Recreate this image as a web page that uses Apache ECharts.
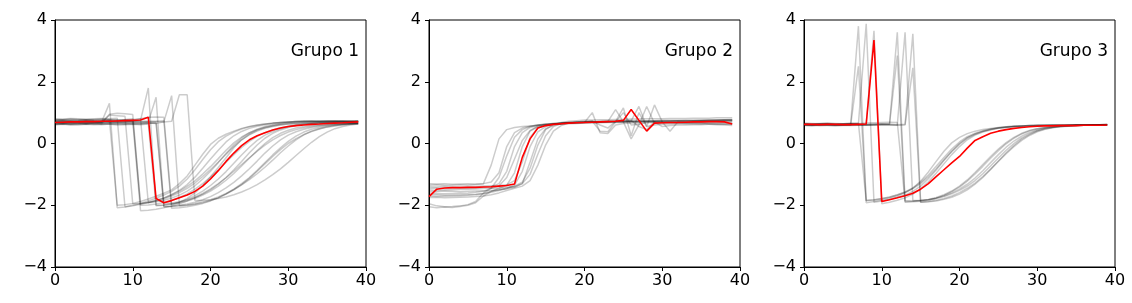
<!DOCTYPE html>
<html>
<head>
<meta charset="utf-8">
<script src="https://cdn.jsdelivr.net/npm/echarts@6/dist/echarts.min.js"></script>
<style>
html,body{margin:0;padding:0;background:#fff;}
#chart{width:1132px;height:303px;}
</style>
</head>
<body>
<div id="chart"></div>
<script>
// ---- data ----
const steps = [0,1,2,3,4,5,6,7,8,9,10,11,12,13,14,15,16,17,18,19,20,21,22,23,24,25,26,27,28,29,30,31,32,33,34,35,36,37,38,39];
const xTicks = [0, 10, 20, 30, 40];
const yTicks = [-4, -2, 0, 2, 4];
const groupNames = ["Grupo 1", "Grupo 2", "Grupo 3"];

// Grupo 1
const g1a = [0.75,0.76,0.74,0.75,0.77,0.75,0.74,0.76,-2.00,-1.98,
 -1.94,-1.88,-1.80,-1.71,-1.61,-1.50,-1.30,-1.05,-0.70,-0.35,
 -0.03,0.17,0.30,0.40,0.49,0.55,0.60,0.63,0.66,0.68,
 0.70,0.71,0.72,0.72,0.71,0.72,0.73,0.72,0.71,0.72];
const g1b = [0.62,0.64,0.63,0.65,0.64,0.66,0.70,1.30,-2.08,-2.06,
 -2.02,-1.97,-1.91,-1.84,-1.76,-1.66,-1.54,-1.39,-1.21,-0.99,
 -0.75,-0.49,-0.22,0.02,0.21,0.35,0.45,0.52,0.57,0.61,
 0.63,0.65,0.66,0.67,0.66,0.67,0.68,0.67,0.66,0.67];
const g1c = [0.80,0.79,0.81,0.80,0.79,0.80,0.81,0.80,0.82,-2.05,
 -2.00,-1.94,-1.86,-1.77,-1.67,-1.55,-1.38,-1.15,-0.85,-0.52,
 -0.20,0.06,0.24,0.37,0.47,0.54,0.59,0.63,0.66,0.68,
 0.70,0.71,0.72,0.73,0.72,0.73,0.74,0.73,0.72,0.73];
const g1d = [0.70,0.71,0.69,0.70,0.72,0.71,0.70,0.92,0.90,0.88,
 -1.95,-1.94,-1.91,-1.86,-1.79,-1.70,-1.59,-1.45,-1.28,-1.07,
 -0.84,-0.60,-0.35,-0.10,0.12,0.28,0.40,0.49,0.55,0.60,
 0.63,0.65,0.67,0.68,0.69,0.70,0.70,0.71,0.70,0.71];
const g1e = [0.68,0.67,0.69,0.68,0.66,0.68,0.67,0.69,0.68,0.70,
 0.72,-2.18,-2.16,-2.13,-2.08,-2.02,-1.95,-1.86,-1.75,-1.62,
 -1.47,-1.30,-1.11,-0.90,-0.68,-0.46,-0.25,-0.05,0.12,0.26,
 0.37,0.45,0.51,0.55,0.58,0.61,0.63,0.64,0.65,0.66];
const g1f = [0.78,0.77,0.79,0.78,0.77,0.78,0.79,0.78,0.77,0.78,
 0.80,-1.95,-1.91,-1.85,-1.77,-1.66,-1.52,-1.33,-1.09,-0.80,
 -0.50,-0.22,0.05,0.25,0.39,0.49,0.56,0.61,0.65,0.68,
 0.70,0.71,0.72,0.72,0.73,0.72,0.71,0.72,0.73,0.72];
const g1g = [0.72,0.71,0.73,0.72,0.70,0.72,0.71,0.73,0.72,0.71,
 0.73,0.75,1.80,-2.02,-2.00,-1.96,-1.90,-1.81,-1.69,-1.54,
 -1.36,-1.15,-0.91,-0.64,-0.37,-0.12,0.10,0.27,0.39,0.48,
 0.54,0.59,0.62,0.64,0.66,0.67,0.68,0.68,0.69,0.70];
const g1h = [0.66,0.65,0.67,0.66,0.64,0.66,0.65,0.67,0.66,0.65,
 0.67,0.66,0.70,1.50,-2.05,-2.03,-2.00,-1.96,-1.90,-1.82,
 -1.72,-1.59,-1.44,-1.26,-1.05,-0.82,-0.57,-0.31,-0.08,0.12,
 0.27,0.38,0.46,0.52,0.56,0.59,0.61,0.63,0.64,0.65];
const g1i = [0.74,0.75,0.73,0.74,0.76,0.74,0.73,0.75,0.74,0.76,
 0.75,0.80,0.85,0.86,0.85,-1.98,-1.90,-1.78,-1.60,-1.36,
 -1.08,-0.78,-0.46,-0.14,0.12,0.30,0.43,0.52,0.58,0.63,
 0.66,0.68,0.69,0.70,0.71,0.72,0.71,0.72,0.73,0.72];
const g1j = [0.64,0.63,0.65,0.64,0.62,0.64,0.63,0.65,0.64,0.63,
 0.65,0.64,0.66,0.65,0.70,1.55,-2.02,-2.00,-1.97,-1.92,
 -1.85,-1.76,-1.64,-1.50,-1.33,-1.13,-0.90,-0.66,-0.42,-0.20,
 0.00,0.16,0.29,0.39,0.47,0.53,0.57,0.60,0.62,0.64];
const g1k = [0.70,0.69,0.71,0.70,0.68,0.70,0.69,0.71,0.70,0.69,
 0.71,0.70,0.72,0.71,0.70,0.72,1.58,1.58,-1.85,-1.84,
 -1.82,-1.78,-1.73,-1.66,-1.57,-1.46,-1.33,-1.18,-1.01,-0.82,
 -0.61,-0.39,-0.17,0.04,0.22,0.37,0.48,0.55,0.60,0.63];
const g1l = [0.60,0.62,0.61,0.60,0.62,0.61,0.63,0.62,0.60,0.61,
 0.62,0.61,0.63,-2.00,-1.99,-1.96,-1.92,-1.86,-1.78,-1.67,
 -1.54,-1.38,-1.19,-0.97,-0.73,-0.48,-0.23,0.00,0.19,0.33,
 0.43,0.50,0.55,0.58,0.60,0.62,0.63,0.64,0.64,0.65];
const g1n = [0.72,0.73,0.71,0.72,0.74,0.72,0.71,0.73,0.72,0.74,
 0.72,0.73,0.71,0.72,0.74,-2.10,-2.08,-2.05,-2.00,-1.94,
 -1.86,-1.76,-1.63,-1.48,-1.30,-1.10,-0.87,-0.62,-0.37,-0.14,
 0.07,0.24,0.37,0.46,0.52,0.57,0.60,0.62,0.64,0.65];
const g1o = [0.68,0.69,0.67,0.68,0.70,0.68,0.67,0.69,0.68,0.70,
 0.68,0.69,0.67,0.68,-1.95,-1.93,-1.89,-1.83,-1.75,-1.64,
 -1.50,-1.32,-1.10,-0.85,-0.58,-0.30,-0.05,0.17,0.33,0.44,
 0.52,0.58,0.62,0.65,0.67,0.68,0.69,0.70,0.70,0.71];
const g1p = [0.77,0.76,0.78,0.77,0.76,0.77,0.78,0.77,0.76,0.77,
 0.78,0.80,-1.92,-1.89,-1.84,-1.77,-1.67,-1.54,-1.37,-1.15,
 -0.90,-0.62,-0.32,-0.05,0.18,0.34,0.46,0.55,0.61,0.65,
 0.68,0.70,0.71,0.72,0.71,0.72,0.73,0.72,0.71,0.72];
const g1q = [0.65,0.66,0.64,0.65,0.67,0.66,0.65,0.95,0.98,0.96,
 0.94,-2.00,-1.99,-1.96,-1.91,-1.84,-1.75,-1.63,-1.48,-1.30,
 -1.09,-0.86,-0.61,-0.36,-0.13,0.07,0.23,0.35,0.44,0.51,
 0.56,0.60,0.62,0.64,0.65,0.66,0.67,0.67,0.68,0.68];
const g1r = [0.62,0.63,0.61,0.62,0.64,0.62,0.61,0.63,0.62,0.64,
 0.62,0.63,0.65,0.66,-2.05,-2.04,-2.02,-1.99,-1.95,-1.89,
 -1.82,-1.73,-1.62,-1.49,-1.34,-1.17,-0.98,-0.77,-0.54,-0.30,
 -0.08,0.12,0.28,0.40,0.48,0.54,0.58,0.61,0.63,0.64];
const red1 = [0.68,0.69,0.70,0.70,0.71,0.71,0.72,0.72,0.73,0.74,
 0.75,0.76,0.85,-1.78,-1.92,-1.85,-1.76,-1.67,-1.55,-1.38,
 -1.15,-0.88,-0.58,-0.31,-0.07,0.12,0.25,0.35,0.44,0.50,
 0.55,0.58,0.60,0.62,0.63,0.65,0.66,0.67,0.69,0.70];

// Grupo 2
const g2a = [-1.35,-1.34,-1.36,-1.35,-1.34,-1.35,-1.33,-1.30,-0.70,0.15,
 0.45,0.52,0.55,0.57,0.59,0.61,0.62,0.63,0.64,0.65,
 0.66,0.66,0.67,0.68,0.68,0.69,0.70,0.70,0.71,0.71,
 0.72,0.72,0.73,0.73,0.74,0.74,0.75,0.75,0.76,0.76];
const g2b = [-1.60,-1.62,-1.63,-1.62,-1.61,-1.60,-1.58,-1.55,-1.45,-1.10,
 -0.40,0.20,0.45,0.55,0.60,0.62,0.64,0.65,0.66,0.67,
 0.68,0.68,0.69,0.69,0.70,0.70,0.71,0.71,0.72,0.72,
 0.72,0.73,0.73,0.73,0.74,0.74,0.74,0.75,0.75,0.75];
const g2c = [-1.45,-1.44,-1.46,-1.45,-1.44,-1.45,-1.43,-1.42,-1.40,-1.30,
 -0.90,-0.10,0.35,0.52,0.58,0.62,0.65,0.67,0.68,0.69,
 0.70,0.70,0.71,0.72,0.72,0.73,0.73,0.74,0.74,0.74,
 0.75,0.75,0.75,0.76,0.76,0.76,0.77,0.77,0.77,0.78];
const g2d = [-1.95,-2.02,-2.05,-2.04,-2.02,-1.98,-1.88,-1.60,-1.45,-1.38,
 -1.10,-0.50,0.10,0.42,0.55,0.60,0.63,0.65,0.66,0.67,
 0.68,0.69,0.70,0.70,0.71,0.71,0.72,0.72,0.72,0.73,
 0.73,0.73,0.74,0.74,0.74,0.75,0.75,0.75,0.76,0.76];
const g2e = [-2.05,-2.08,-2.06,-2.07,-2.04,-2.00,-1.92,-1.70,-1.55,-1.50,
 -1.45,-1.35,-0.90,-0.10,0.38,0.55,0.62,0.66,0.68,0.69,
 0.70,0.72,0.40,0.38,0.70,1.00,0.60,0.62,0.68,0.70,
 0.68,0.67,0.66,0.65,0.64,0.63,0.62,0.61,0.60,0.58];
const g2f = [-1.70,-1.72,-1.71,-1.70,-1.69,-1.68,-1.66,-1.63,-1.58,-1.52,
 -1.45,-1.38,-1.25,-0.80,-0.05,0.45,0.62,0.68,0.72,0.74,
 0.76,0.76,0.77,0.77,0.78,0.78,0.79,0.79,0.80,0.80,
 0.80,0.81,0.81,0.81,0.82,0.82,0.82,0.83,0.83,0.83];
const g2g = [-1.50,-1.52,-1.51,-1.50,-1.49,-1.48,-1.47,-1.46,-1.45,-1.44,
 -1.42,-1.40,-1.30,-1.00,-0.35,0.25,0.55,0.65,0.68,0.70,
 0.70,0.71,0.71,0.72,0.72,0.73,0.73,1.20,0.55,1.25,
 0.70,0.40,0.70,0.68,0.67,0.66,0.65,0.64,0.63,0.62];
const g2h = [-1.40,-1.41,-1.39,-1.40,-1.41,-1.40,-1.39,-1.38,-1.37,-1.36,
 -1.34,-1.20,-0.60,0.20,0.50,0.58,0.62,0.64,0.66,0.67,
 0.68,1.00,0.35,0.32,0.60,0.65,0.66,0.67,0.68,0.68,
 0.69,0.69,0.70,0.70,0.70,0.71,0.71,0.71,0.72,0.72];
const g2i = [-1.65,-1.66,-1.68,-1.67,-1.66,-1.65,-1.64,-1.62,-1.55,-1.45,
 -1.35,-0.95,-0.10,0.40,0.55,0.60,0.63,0.65,0.67,0.68,
 0.69,0.70,0.70,0.71,1.10,0.70,0.15,0.60,1.20,0.65,
 0.66,0.67,0.68,0.68,0.69,0.69,0.70,0.70,0.70,0.71];
const g2j = [-1.55,-1.56,-1.54,-1.55,-1.56,-1.55,-1.54,-1.53,-1.52,-1.50,
 -1.47,-1.42,-1.30,-0.60,0.15,0.48,0.58,0.63,0.66,0.68,
 0.69,0.70,0.71,0.72,0.72,1.15,0.25,1.00,0.55,0.60,
 0.62,0.63,0.64,0.64,0.65,0.65,0.66,0.66,0.66,0.67];
const g2k = [-1.30,-1.31,-1.30,-1.32,-1.31,-1.30,-1.31,-1.30,-1.25,-0.95,
 -0.10,0.35,0.50,0.56,0.60,0.63,0.65,0.66,0.67,0.68,
 0.68,0.69,0.69,0.70,0.70,0.70,0.71,0.71,0.71,0.72,
 0.72,0.72,0.73,0.73,0.73,0.74,0.74,0.74,0.75,0.75];
const g2l = [-1.75,-1.74,-1.76,-1.75,-1.74,-1.73,-1.72,-1.70,-1.66,-1.60,
 -1.52,-1.45,-1.38,-1.20,-0.70,-0.05,0.40,0.58,0.66,0.70,
 0.72,0.73,0.60,0.50,0.72,0.74,0.75,0.55,0.45,0.70,
 0.55,0.58,0.60,0.60,0.61,0.61,0.62,0.62,0.62,0.63];
const red2 = [-1.72,-1.48,-1.44,-1.43,-1.43,-1.42,-1.42,-1.41,-1.40,-1.38,
 -1.36,-1.31,-0.45,0.15,0.50,0.58,0.62,0.64,0.66,0.67,
 0.68,0.69,0.70,0.71,0.72,0.75,1.10,0.75,0.40,0.66,
 0.67,0.68,0.68,0.69,0.70,0.70,0.71,0.71,0.70,0.63];

// Grupo 3
const g3a = [0.62,0.60,0.61,0.62,0.61,0.60,0.62,3.80,-1.92,-1.88,
 -1.83,-1.77,-1.70,-1.60,-1.45,-1.22,-0.92,-0.58,-0.25,0.02,
 0.20,0.32,0.40,0.45,0.49,0.52,0.54,0.56,0.57,0.58,
 0.58,0.59,0.59,0.59,0.60,0.60,0.60,0.61,0.61,0.61];
const g3b = [0.58,0.57,0.59,0.58,0.57,0.58,0.59,2.50,-1.85,-1.82,
 -1.78,-1.73,-1.66,-1.57,-1.44,-1.26,-1.02,-0.74,-0.45,-0.18,
 0.05,0.22,0.33,0.41,0.47,0.51,0.54,0.56,0.57,0.58,
 0.59,0.59,0.60,0.60,0.60,0.61,0.61,0.61,0.61,0.62];
const g3c = [0.64,0.63,0.65,0.64,0.63,0.64,0.65,0.64,3.88,-1.90,
 -1.86,-1.81,-1.75,-1.67,-1.55,-1.38,-1.14,-0.86,-0.55,-0.26,
 -0.02,0.17,0.30,0.39,0.45,0.50,0.53,0.55,0.57,0.58,
 0.59,0.59,0.60,0.60,0.60,0.61,0.61,0.61,0.61,0.62];
const g3d = [0.60,0.61,0.59,0.60,0.61,0.60,0.59,0.60,0.62,3.65,
 -1.95,-1.90,-1.84,-1.76,-1.64,-1.47,-1.24,-0.96,-0.66,-0.36,
 -0.10,0.12,0.27,0.37,0.44,0.49,0.52,0.55,0.56,0.57,
 0.58,0.59,0.59,0.59,0.60,0.60,0.60,0.60,0.61,0.61];
const g3e = [0.66,0.65,0.64,0.66,0.65,0.64,0.65,0.66,-1.85,-1.83,
 -1.79,-1.74,-1.67,-1.58,-1.46,-1.30,-1.08,-0.82,-0.53,-0.25,
 0.00,0.19,0.31,0.40,0.46,0.50,0.53,0.55,0.56,0.57,
 0.58,0.58,0.59,0.59,0.59,0.60,0.60,0.60,0.60,0.61];
const g3f = [0.61,0.60,0.62,0.61,0.60,0.61,0.62,0.61,0.60,0.61,
 0.62,0.63,3.60,-1.85,-1.86,-1.85,-1.82,-1.77,-1.70,-1.60,
 -1.48,-1.32,-1.12,-0.88,-0.62,-0.36,-0.12,0.08,0.24,0.36,
 0.44,0.50,0.53,0.55,0.57,0.58,0.59,0.59,0.60,0.60];
const g3g = [0.63,0.62,0.63,0.64,0.62,0.63,0.64,0.63,0.62,0.63,
 0.64,0.63,2.85,-1.90,-1.89,-1.87,-1.83,-1.77,-1.68,-1.56,
 -1.41,-1.22,-0.99,-0.74,-0.48,-0.23,-0.01,0.17,0.31,0.41,
 0.48,0.52,0.55,0.57,0.58,0.59,0.59,0.60,0.60,0.60];
const g3h = [0.59,0.60,0.58,0.59,0.60,0.59,0.58,0.59,0.60,0.59,
 0.60,0.61,0.60,3.60,-1.85,-1.84,-1.82,-1.78,-1.72,-1.63,
 -1.52,-1.38,-1.20,-0.98,-0.73,-0.47,-0.22,0.00,0.18,0.32,
 0.42,0.49,0.53,0.56,0.57,0.58,0.59,0.60,0.60,0.61];
const g3i = [0.62,0.61,0.62,0.63,0.61,0.62,0.63,0.62,0.61,0.62,
 0.63,0.62,0.61,0.62,3.55,-1.90,-1.89,-1.86,-1.81,-1.74,
 -1.64,-1.50,-1.32,-1.10,-0.84,-0.57,-0.30,-0.06,0.14,0.29,
 0.40,0.47,0.52,0.55,0.57,0.58,0.59,0.60,0.61,0.61];
const g3j = [0.60,0.59,0.60,0.61,0.59,0.60,0.61,0.60,0.59,0.60,
 0.61,0.60,0.59,0.60,2.45,-1.90,-1.88,-1.84,-1.78,-1.70,
 -1.59,-1.45,-1.28,-1.07,-0.83,-0.58,-0.33,-0.10,0.10,0.26,
 0.38,0.46,0.51,0.54,0.56,0.58,0.59,0.59,0.60,0.60];
const g3k = [0.64,0.63,0.64,0.65,0.63,0.64,0.65,0.64,0.66,0.67,
 0.68,0.69,0.68,-1.88,-1.87,-1.85,-1.81,-1.75,-1.66,-1.54,
 -1.38,-1.18,-0.94,-0.68,-0.42,-0.18,0.03,0.20,0.33,0.42,
 0.48,0.52,0.55,0.57,0.58,0.59,0.59,0.60,0.60,0.61];
const red3 = [0.62,0.62,0.61,0.62,0.62,0.61,0.61,0.62,0.63,3.35,
 -1.88,-1.82,-1.76,-1.69,-1.61,-1.48,-1.30,-1.07,-0.85,-0.63,
 -0.42,-0.15,0.10,0.22,0.33,0.40,0.45,0.49,0.52,0.54,
 0.56,0.57,0.57,0.58,0.58,0.58,0.59,0.59,0.59,0.60];

const grayGroups = [
  [g1a,g1b,g1c,g1d,g1e,g1f,g1g,g1h,g1i,g1j,g1k,g1l,g1n,g1o,g1p,g1q,g1r],
  [g2a,g2b,g2c,g2d,g2e,g2f,g2g,g2h,g2i,g2j,g2k,g2l],
  [g3a,g3b,g3c,g3d,g3e,g3f,g3g,g3h,g3i,g3j,g3k]
];
const redLines = [red1, red2, red3];

// ---- layout ----
const FONT = '"DejaVu Sans", "Liberation Sans", sans-serif';
const panelLeft = [55, 429, 804];
const panelWidth = 311;
const panelTop = 20;
const panelHeight = 247;

const chart = echarts.init(document.getElementById('chart'), null, {renderer: 'canvas'});
const toPairs = arr => arr.map((v, i) => [steps[i], v]);

const grids = [], xAxes = [], yAxes = [], series = [], graphics = [];
for (let p = 0; p < 3; p++) {
  grids.push({left: panelLeft[p], top: panelTop, width: panelWidth, height: panelHeight,
    show: true, borderColor: '#000', borderWidth: 1, backgroundColor: '#fff'});
  xAxes.push({gridIndex: p, type: 'value', min: xTicks[0], max: xTicks[xTicks.length-1], interval: 10,
    axisLine: {show: true, onZero: false, lineStyle: {color: '#000', width: 1}},
    axisTick: {show: true, length: 4, lineStyle: {color: '#000', width: 1}},
    axisLabel: {fontSize: 16, color: '#000', fontFamily: FONT, margin: 6, showMinLabel: true, showMaxLabel: true},
    splitLine: {show: false}});
  yAxes.push({gridIndex: p, type: 'value', min: yTicks[0], max: yTicks[yTicks.length-1], interval: 2,
    axisLine: {show: true, onZero: false, lineStyle: {color: '#000', width: 1}},
    axisTick: {show: true, length: 4, lineStyle: {color: '#000', width: 1}},
    axisLabel: {fontSize: 16, color: '#000', fontFamily: FONT, margin: 8, showMinLabel: true, showMaxLabel: true,
      formatter: v => String(v).replace('-', '\u2212')},
    splitLine: {show: false}});
  grayGroups[p].forEach(arr => {
    series.push({type: 'line', xAxisIndex: p, yAxisIndex: p, data: toPairs(arr),
      showSymbol: false, symbol: 'none', silent: true, animation: false,
      lineStyle: {color: 'rgba(0,0,0,0.2)', width: 1.5}, z: 2});
  });
  series.push({type: 'line', xAxisIndex: p, yAxisIndex: p, data: toPairs(redLines[p]),
    showSymbol: false, symbol: 'none', silent: true, animation: false,
    lineStyle: {color: '#ff0000', width: 1.6}, z: 3});
  graphics.push({type: 'text', x: panelLeft[p] + panelWidth - 7, y: 52, z: 10,
    style: {text: groupNames[p], fill: '#000', font: '17px ' + FONT, align: 'right', verticalAlign: 'middle'}});
}

chart.setOption({
  backgroundColor: '#fff',
  animation: false,
  grid: grids,
  xAxis: xAxes,
  yAxis: yAxes,
  series: series,
  graphic: graphics
});
</script>
</body>
</html>
